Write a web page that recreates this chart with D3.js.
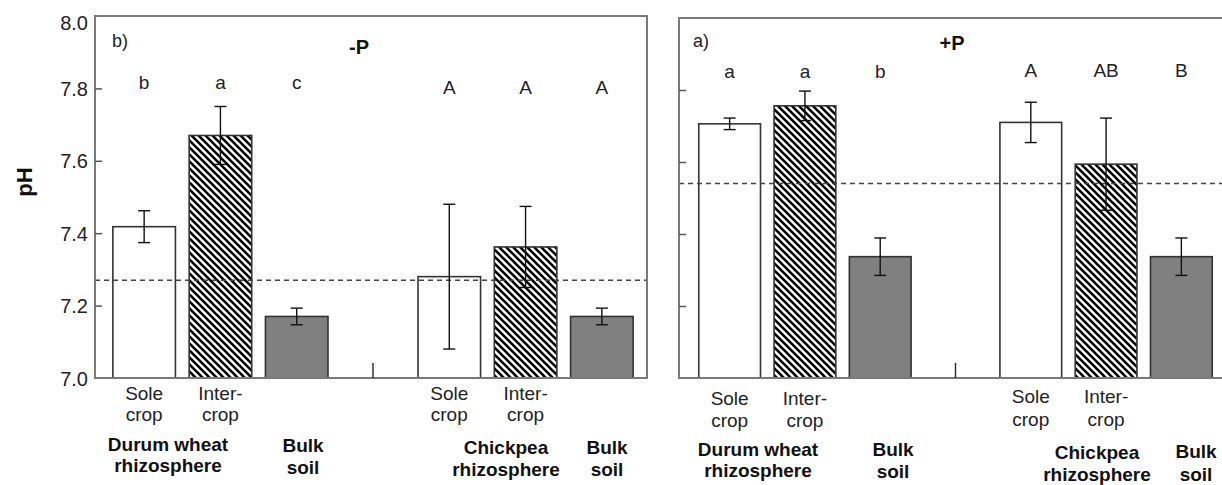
<!DOCTYPE html>
<html><head><meta charset="utf-8">
<script src="https://cdn.jsdelivr.net/npm/d3@7"></script>
<style>body{margin:0;background:#fff}svg{display:block}</style>
</head><body>
<script>
// ---- data ----
const slots = ["DW Sole", "DW Inter", "DW Bulk", "gap", "CP Sole", "CP Inter", "CP Bulk"];
const barSlots = ["DW Sole", "DW Inter", "DW Bulk", "CP Sole", "CP Inter", "CP Bulk"];
const barKinds = ["sole", "inter", "bulk", "sole", "inter", "bulk"];
const minusP_means = [7.418, 7.67, 7.17, 7.28, 7.362, 7.17];
const minusP_errs  = [0.044, 0.08, 0.023, 0.2, 0.112, 0.023];
const minusP_letters = ["b", "a", "c", "A", "A", "A"];
const plusP_means = [7.706, 7.756, 7.337, 7.71, 7.594, 7.337];
const plusP_errs  = [0.016, 0.041, 0.052, 0.056, 0.128, 0.052];
const plusP_letters = ["a", "a", "b", "A", "AB", "B"];
const minusP_ref = 7.27;
const plusP_ref = 7.54;
const yTicks = [7.0, 7.2, 7.4, 7.6, 7.8, 8.0];
const subLabels = [["Sole", "crop"], ["Inter-", "crop"], null, ["Sole", "crop"], ["Inter-", "crop"], null];
const groupLabels = [["Durum wheat", "rhizosphere"], ["Bulk", "soil"], ["Chickpea", "rhizosphere"], ["Bulk", "soil"]];
const panelTags = ["b)", "a)"];
const panelTitles = ["-P", "+P"];

// ---- layout ----
const W = 1222, H = 485;
const svg = d3.select("body").append("svg").attr("width", W).attr("height", H);
const defs = svg.append("defs");
const pat = defs.append("pattern").attr("id", "hatch").attr("patternUnits", "userSpaceOnUse")
  .attr("width", 7).attr("height", 7);
pat.append("rect").attr("width", 7).attr("height", 7).attr("fill", "#fff");
pat.append("path").attr("d", "M-1,-1L8,8M-1,6L1,8M6,-1L8,1").attr("stroke", "#000").attr("stroke-width", 2.6);

const panels = [
  {left: 95, right: 647, top: 16, bottom: 378, xr: [106, 640], means: minusP_means, errs: minusP_errs,
   letters: minusP_letters, ref: minusP_ref, tag: panelTags[0], title: panelTitles[0], showLabels: true,
   tagPos: [112, 47], titlePos: [359, 54], letterY: [89, 89, 89, 94, 94, 94],
   subY: [[400, 421], [400, 421], null, [400, 421], [400, 421], null],
   groupX: [168, 303, 506, 607], groupY: [[451, 472], [452, 474], [454, 476], [454, 476]]},
  {left: 679, right: 1226, top: 18, bottom: 378, xr: [692, 1219], means: plusP_means, errs: plusP_errs,
   letters: plusP_letters, ref: plusP_ref, tag: panelTags[1], title: panelTitles[1], showLabels: false,
   tagPos: [693, 47], titlePos: [952, 50], letterY: [78, 78, 78, 77, 77, 77],
   subY: [[405, 427], [405, 427], null, [403, 426], [403, 426], null],
   groupX: [758, 893, 1097, 1196], groupY: [[456, 477], [456, 478], [459, 481], [458, 481]]}
];

const font = "Arial, 'Liberation Sans', sans-serif";

panels.forEach(p => {
  const g = svg.append("g");
  const x = d3.scaleBand().domain(slots).range(p.xr).paddingInner(0.18).paddingOuter(0.09);
  const y = d3.scaleLinear().domain([7, 8]).range([p.bottom, p.top]);

  // bars
  barSlots.forEach((s, i) => {
    const k = barKinds[i];
    g.append("rect")
      .attr("x", x(s)).attr("width", x.bandwidth())
      .attr("y", y(p.means[i])).attr("height", y(7) - y(p.means[i]))
      .attr("fill", k === "sole" ? "#fff" : k === "inter" ? "url(#hatch)" : "#808080")
      .attr("stroke", "#333").attr("stroke-width", 1.6);
  });

  // reference dashed line
  g.append("line").attr("x1", p.left).attr("x2", Math.min(p.right, W))
    .attr("y1", y(p.ref)).attr("y2", y(p.ref))
    .attr("stroke", "#444").attr("stroke-width", 1.5).attr("stroke-dasharray", "5,4");

  // error bars
  barSlots.forEach((s, i) => {
    const cx = x(s) + x.bandwidth() / 2;
    const hi = y(p.means[i] + p.errs[i]), lo = y(p.means[i] - p.errs[i]);
    g.append("line").attr("x1", cx).attr("x2", cx).attr("y1", hi).attr("y2", lo)
      .attr("stroke", "#111").attr("stroke-width", 1.4);
    [hi, lo].forEach(yy => g.append("line").attr("x1", cx - 6).attr("x2", cx + 6)
      .attr("y1", yy).attr("y2", yy).attr("stroke", "#111").attr("stroke-width", 1.4));
  });

  // frame
  g.append("rect").attr("x", p.left).attr("y", p.top)
    .attr("width", p.right - p.left).attr("height", p.bottom - p.top)
    .attr("fill", "none").attr("stroke", "#7a7a7a").attr("stroke-width", 2);

  // y axis ticks (inward)
  const ax = d3.axisRight(y).tickValues(yTicks.slice(1, -1)).tickSize(7).tickFormat("");
  const axg = g.append("g").attr("transform", `translate(${p.left},0)`).call(ax);
  axg.select(".domain").remove();
  axg.selectAll("line").attr("stroke", "#555").attr("stroke-width", 1.5);
  if (p.showLabels) {
    const lab = d3.axisLeft(y).tickValues(yTicks).tickSize(0).tickPadding(7).tickFormat(d3.format(".1f"));
    const lg = g.append("g").attr("transform", `translate(${p.left},0)`).call(lab);
    lg.select(".domain").remove();
    lg.selectAll("text").attr("font-family", font).attr("font-size", 20).attr("fill", "#222")
      .attr("dy", (d) => d === 8 ? "0.65em" : "0.35em");
  }

  // divider tick on x axis
  const gx = x("gap") + x.bandwidth() / 2;
  g.append("line").attr("x1", gx).attr("x2", gx).attr("y1", p.bottom - 15).attr("y2", p.bottom)
    .attr("stroke", "#333").attr("stroke-width", 1.5);

  // letters
  barSlots.forEach((s, i) => {
    g.append("text").attr("x", x(s) + x.bandwidth() / 2).attr("y", p.letterY[i])
      .attr("text-anchor", "middle").attr("font-family", font).attr("font-size", 19)
      .attr("fill", "#222").text(p.letters[i]);
  });

  // tag and title
  g.append("text").attr("x", p.tagPos[0]).attr("y", p.tagPos[1]).attr("font-family", font)
    .attr("font-size", 18).attr("fill", "#222").text(p.tag);
  g.append("text").attr("x", p.titlePos[0]).attr("y", p.titlePos[1]).attr("text-anchor", "middle")
    .attr("font-family", font).attr("font-weight", "bold").attr("font-size", 20).attr("fill", "#111").text(p.title);

  // sub labels
  barSlots.forEach((s, i) => {
    if (!subLabels[i]) return;
    const cx = x(s) + x.bandwidth() / 2;
    subLabels[i].forEach((t, j) => g.append("text").attr("x", cx).attr("y", p.subY[i][j])
      .attr("text-anchor", "middle").attr("font-family", font).attr("font-size", 19)
      .attr("fill", "#222").text(t));
  });

  // group labels
  groupLabels.forEach((lines, gi) => {
    lines.forEach((t, j) => g.append("text").attr("x", p.groupX[gi]).attr("y", p.groupY[gi][j])
      .attr("text-anchor", "middle").attr("font-family", font).attr("font-weight", "bold")
      .attr("font-size", 19).attr("fill", "#111").text(t));
  });
});

// y title
svg.append("text").attr("transform", "translate(32,182) rotate(-90)").attr("text-anchor", "middle")
  .attr("font-family", font).attr("font-weight", "bold").attr("font-size", 22).attr("fill", "#111").text("pH");
</script>
</body></html>
